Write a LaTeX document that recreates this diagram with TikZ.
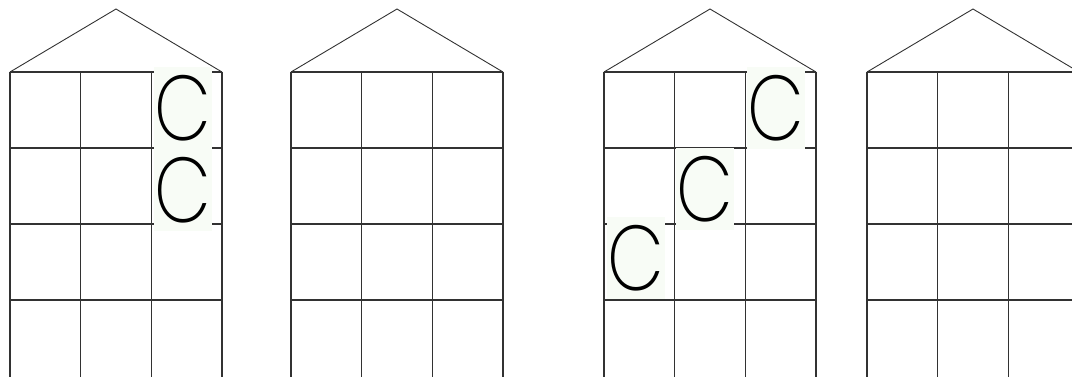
\documentclass[tikz,border=0pt]{standalone}
\usepackage{fontspec}
\usepackage{xcolor}
\newfontfamily\letterfont[FakeStretch=0.8]{Poppins ExtraLight}
\definecolor{letterbg}{RGB}{248,252,246}
\definecolor{gridline}{RGB}{50,50,50}

\begin{document}
\begin{tikzpicture}[
  x=1pt,y=-1pt,
  roof/.style={draw=gridline,line width=0.9pt},
  wall/.style={draw=gridline,line width=1.2pt},
  letterbox/.style={fill=letterbg,inner sep=0pt,minimum width=58pt,minimum height=82pt,
    font=\letterfont\fontsize{92}{92}\selectfont}
]
\useasboundingbox (0,0) rectangle (1072,376);
\clip (0,0) rectangle (1072,376);
% four houses: roof and a 3 x 4 grid of windows
\foreach \hx in {10,291,604,867} {
  \draw[roof] (\hx,72) -- ++(106,-63) -- ++(106,63);
  \foreach \i in {0,...,3}
    \draw[wall] ({\hx+\i*70.67},72) -- ({\hx+\i*70.67},385);
  \foreach \j in {0,...,3}
    \draw[wall] (\hx,{72+\j*76}) -- ({\hx+212},{72+\j*76});
}
% letters placed in the windows
\node[letterbox] (first top) at (183,108) {C};
\node[letterbox] (first low) at (183,190) {C};
\node[letterbox] (third top) at (776,108) {C};
\node[letterbox] (third mid) at (705,189) {C};
\node[letterbox] (third low) at (636,258) {C};
\end{tikzpicture}
\end{document}
